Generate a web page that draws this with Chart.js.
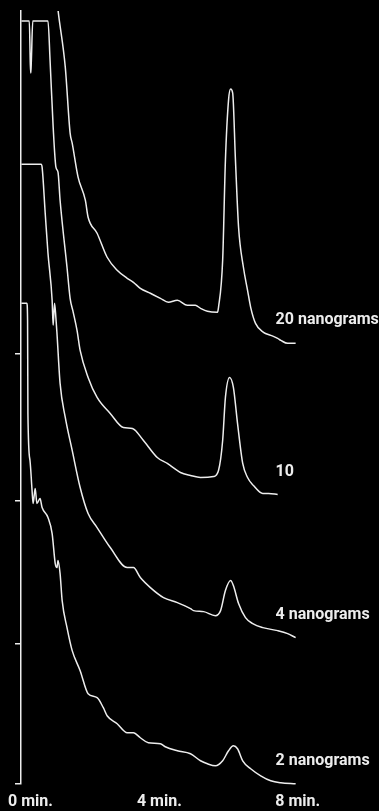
<!DOCTYPE html>
<html>
<head>
<meta charset="utf-8">
<script src="https://cdn.jsdelivr.net/npm/chart.js@4"></script>
<style>
  html, body { margin: 0; padding: 0; background: #000; }
  canvas { display: block; background: #000; }
</style>
</head>
<body>
<canvas id="c" width="379" height="811"></canvas>
<script>
// ---- data (time in minutes, recorder level in chart divisions) ----
const traceLabels = ["20 nanograms", "10", "4 nanograms", "2 nanograms"];

const time20 = [1.04,1.07,1.28,1.42,1.48,1.65,1.86,1.94,2.20,2.49,2.78,3.07,3.25,3.45,3.74,4.03,4.26,4.52,4.81,5.04,5.19,5.39,5.68,5.71,5.83,5.91,6.00,6.06,6.12,6.20,6.29,6.43,6.55,6.64,6.78,7.01,7.22,7.42,7.51,7.71,7.94];
const level20 = [783,773,716,650,640,606,583,566,550,526,513,505,501,495,490,485,481,483,478,478,475,472,471,476,523,623,683,694,690,623,556,516,493,476,460,451,448,445,443,440,440];

const time10 = [0.01,0.24,0.27,0.284,0.30,0.34,0.78,0.84,0.93,1.01,1.07,1.13,1.33,1.42,1.51,1.62,1.71,1.94,2.20,2.58,2.96,3.22,3.54,3.94,4.23,4.61,4.90,5.19,5.57,5.71,5.83,5.91,6.03,6.14,6.26,6.41,6.55,6.72,6.99,7.16,7.42];
const level10 = [762,762,718,710,723,762,762,723,656,616,611,583,516,485,471,453,433,406,386,370,356,355,343,326,320,311,308,306,307,313,343,386,406,396,360,320,306,298,290,290,289];

const time4 = [0.01,0.58,0.61,0.70,0.78,0.90,0.93,0.97,1.01,1.04,1.13,1.28,1.48,1.71,1.94,2.20,2.58,3.07,3.25,3.45,3.74,4.12,4.52,4.90,4.99,5.28,5.62,5.77,5.91,6.06,6.14,6.29,6.49,6.70,6.99,7.42,7.71,7.94];
const level4 = [619,619,616,570,530,483,458,480,465,450,400,366,333,296,270,256,236,216,216,206,196,186,181,175,173,172,168,173,193,203,198,180,166,160,156,153,150,146];

const time2 = [0.01,0.17,0.19,0.20,0.26,0.32,0.35,0.41,0.46,0.55,0.61,0.78,0.90,0.99,1.04,1.07,1.13,1.19,1.33,1.48,1.71,1.94,2.20,2.38,2.49,2.78,3.07,3.25,3.45,3.68,4.03,4.17,4.52,4.90,5.19,5.39,5.62,5.83,6.00,6.14,6.26,6.41,6.64,6.93,7.22,7.51,7.94];
const level2 = [480,480,463,370,323,293,280,295,280,285,276,266,250,220,216,223,210,183,156,133,113,90,86,76,68,60,51,51,46,41,40,37,33,30,23,20,18,23,33,38,35,23,15,8,3,1,0];

const timeTicks = [0, 4, 8];
const timeTickLabels = ["0 min.", "4 min.", "8 min."];
const baselineMarks = [430, 283, 140, 0];

// ---- styling ----
const INK = '#ededed';
const FONT = { family: 'Roboto, "Liberation Sans", sans-serif', weight: 'bold', size: 16 };
const LABEL_TIME = 7.36;
const PAGE_MARGIN = 8;

const traces = [
  { time: time20, level: level20 },
  { time: time10, level: level10 },
  { time: time4,  level: level4 },
  { time: time2,  level: level2 }
];

// names of the runs, set beside the tail of each trace
const traceLabelPlugin = {
  id: 'traceLabels',
  afterDatasetsDraw(chart) {
    const { ctx, scales: { x, y } } = chart;
    ctx.save();
    ctx.fillStyle = INK;
    ctx.font = `${FONT.weight} ${FONT.size}px ${FONT.family}`;
    ctx.textAlign = 'left';
    ctx.textBaseline = 'middle';
    chart.data.datasets.forEach((ds) => {
      const last = ds.data[ds.data.length - 1];
      ctx.fillText(ds.label, x.getPixelForValue(LABEL_TIME), y.getPixelForValue(last.y) - 23);
    });
    ctx.restore();
  }
};

// time labels: centred under their ticks, except "0 min." which starts at the page margin
const edgeLabelPlugin = {
  id: 'edgeLabel',
  beforeDraw(chart) {
    const items = chart.scales.x.getLabelItems();
    if (!items || !items.length) return;
    items.forEach((it, i) => {
      if (i === 0) {
        it.options.textAlign = 'left';
        it.options.translation[0] = PAGE_MARGIN;
      } else {
        it.options.textAlign = 'center';
      }
    });
  }
};

new Chart(document.getElementById('c'), {
  type: 'line',
  data: {
    datasets: traces.map((tr, i) => ({
      label: traceLabels[i],
      data: tr.time.map((t, k) => ({ x: t, y: tr.level[k] })),
      borderColor: INK,
      borderWidth: 1.5,
      pointRadius: 0,
      fill: false,
      cubicInterpolationMode: 'monotone',
      clip: { left: 4, top: 0, right: 4, bottom: 4 }
    }))
  },
  options: {
    responsive: false,
    animation: false,
    events: [],
    layout: { autoPadding: false, padding: { top: 11, left: 15, right: 0, bottom: -10 } },
    plugins: { legend: { display: false }, tooltip: { enabled: false } },
    scales: {
      x: {
        type: 'linear',
        min: 0,
        max: 10.35,
        border: { display: false },
        grid: { display: false, drawTicks: false, tickLength: 0 },
        afterBuildTicks: (s) => { s.ticks = timeTicks.map(v => ({ value: v })); },
        ticks: {
          color: INK,
          font: FONT,
          padding: 9,
          align: 'inner',
          maxRotation: 0,
          autoSkip: false,
          callback: (v, i) => timeTickLabels[i]
        }
      },
      y: {
        type: 'linear',
        min: 0,
        max: 772,
        border: { display: true, color: INK, width: 1.5 },
        grid: { drawOnChartArea: false, drawTicks: true, tickLength: 6, color: INK, lineWidth: 1.5 },
        ticks: { display: false },
        afterBuildTicks: (s) => { s.ticks = baselineMarks.map(v => ({ value: v })); }
      }
    }
  },
  plugins: [traceLabelPlugin, edgeLabelPlugin]
});
</script>
</body>
</html>
